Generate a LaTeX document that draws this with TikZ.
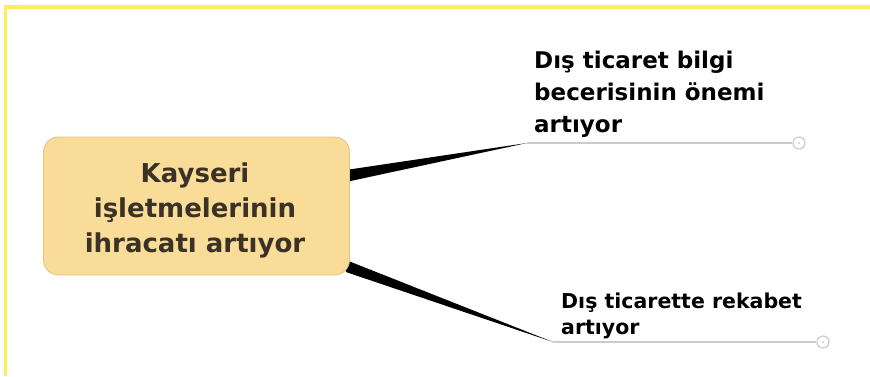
\documentclass[tikz,border=0pt]{standalone}
\usepackage{fontspec}
\setmainfont{DejaVu Sans}
\usetikzlibrary{calc,backgrounds}
\definecolor{frameyellow}{HTML}{FFEE5C}
\definecolor{boxfill}{HTML}{F9DC98}
\definecolor{boxedge}{HTML}{E3C27C}
\definecolor{textdark}{HTML}{3A3226}
\definecolor{linegray}{HTML}{CBCBCB}
\tikzset{
  centralbox/.style={draw=boxedge, line width=0.8pt, fill=boxfill, rounded corners=15pt,
    minimum width=306pt, minimum height=138pt, inner sep=0pt},
  centraltext/.style={anchor=base, align=center, inner sep=0pt, text=textdark,
    font=\bfseries\fontsize{26}{35}\selectfont},
  topictext/.style={anchor=base west, align=left, inner sep=0pt, text=black},
  stem/.style={draw=linegray, line width=1.8pt},
  knob/.style={circle, draw=linegray, fill=white, line width=1.2pt, minimum size=12pt, inner sep=0pt},
  wedge/.style={fill=black}
}
\begin{document}
\begin{tikzpicture}[x=1pt,y=-1pt]
  \useasboundingbox (0,0) rectangle (870,376);
  % frame
  \draw[frameyellow, line width=3.5pt] (5.5,376) -- (5.5,7) -- (870,7);

  % central topic
  \node[centralbox] (main) at (196.5,206) {};
  \node[centraltext] (mainlabel) at (195,252) {Kayseri\\işletmelerinin\\ihracatı artıyor};

  % subtopic labels (base = last line)
  \node[topictext, font=\bfseries\fontsize{23}{32}\selectfont] (t1) at (534,132)
    {Dış ticaret bilgi\\becerisinin önemi\\artıyor};
  \node[topictext, font=\bfseries\fontsize{20.5}{25.5}\selectfont] (t2) at (561,334)
    {Dış ticarette rekabet\\artıyor};

  % underline stems and collapse knobs
  \coordinate (s1) at (527,143);
  \coordinate (s2) at (553,342);
  \node[knob] (k1) at (799,143) {};
  \node[knob] (k2) at (823,342) {};
  \fill[linegray] (k1.center) circle (1pt);
  \fill[linegray] (k2.center) circle (1pt);
  \draw[stem] (s1) -- (k1.west);
  \draw[stem] (s2) -- (k2.west);

  % tapered branches from the central topic
  \coordinate (a1) at ($(main.east)+(0,-30)$);
  \coordinate (a2) at ($(main.east)+(0,60)$);
  \begin{scope}[on background layer]
    \fill[wedge] ($(a1)+(-4,-6)$) -- (s1) -- ($(a1)+(-4,6)$) -- cycle;
    \fill[wedge] ($(a2)+(-4,-6)$) -- (s2) -- ($(a2)+(-4,6)$) -- cycle;
  \end{scope}
\end{tikzpicture}
\end{document}
